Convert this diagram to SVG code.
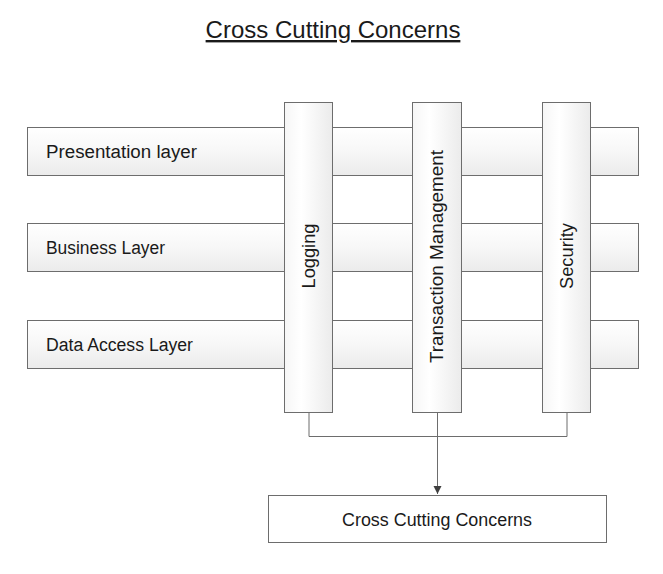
<svg xmlns="http://www.w3.org/2000/svg" width="663" height="574" viewBox="0 0 663 574">
<defs>
<linearGradient id="gBar" x1="0" y1="0" x2="0" y2="1">
<stop offset="0" stop-color="#ffffff"/>
<stop offset="0.5" stop-color="#f7f7f7"/>
<stop offset="1" stop-color="#ebebeb"/>
</linearGradient>
<linearGradient id="gCol" x1="0" y1="0" x2="1" y2="0">
<stop offset="0" stop-color="#f6f6f6"/>
<stop offset="0.35" stop-color="#ffffff"/>
<stop offset="1" stop-color="#ebebeb"/>
</linearGradient>
<marker id="arr" markerWidth="10" markerHeight="10" refX="8" refY="4" orient="auto" markerUnits="userSpaceOnUse">
<path d="M0,0 L8,4 L0,8 Z" fill="#404040"/>
</marker>
</defs>
<style>
.bar{fill:url(#gBar);stroke:#6d6d6d;stroke-width:1}
.col{fill:url(#gCol);stroke:#6d6d6d;stroke-width:1}
.lbl{font-family:"Liberation Sans",Arial,sans-serif;font-size:18px;fill:#1a1a1a}
.conn{fill:none;stroke:#6d6d6d;stroke-width:1}
</style>
<rect width="663" height="574" fill="#ffffff"/>
<g id="title">
<text x="333" y="38" text-anchor="middle" font-family="Liberation Sans, Arial, sans-serif" font-size="24" fill="#1a1a1a" text-decoration="underline">Cross Cutting Concerns</text>
</g>
<g id="presentation">
<rect class="bar" x="27.5" y="127.5" width="611" height="48"/>
<text class="lbl" x="46" y="158" textLength="151" lengthAdjust="spacingAndGlyphs">Presentation layer</text>
</g>
<g id="business">
<rect class="bar" x="27.5" y="223.5" width="611" height="48"/>
<text class="lbl" x="46" y="254" textLength="119" lengthAdjust="spacingAndGlyphs">Business Layer</text>
</g>
<g id="dataaccess">
<rect class="bar" x="27.5" y="320.5" width="611" height="48"/>
<text class="lbl" x="46" y="351" textLength="147" lengthAdjust="spacingAndGlyphs">Data Access Layer</text>
</g>
<g id="connectors">
<polyline class="conn" points="309,412 309,436.5 567,436.5 567,412"/>
<line class="conn" x1="437.5" y1="412" x2="437.5" y2="494" stroke="#404040" marker-end="url(#arr)"/>
</g>
<g id="logging">
<rect class="col" x="284.5" y="102.5" width="48" height="310"/>
<text class="lbl" transform="translate(315,256) rotate(-90)" text-anchor="middle" textLength="65" lengthAdjust="spacingAndGlyphs">Logging</text>
</g>
<g id="transaction">
<rect class="col" x="412.5" y="102.5" width="49" height="310"/>
<text class="lbl" transform="translate(443,256.5) rotate(-90)" text-anchor="middle" textLength="213" lengthAdjust="spacingAndGlyphs">Transaction Management</text>
</g>
<g id="security">
<rect class="col" x="542.5" y="102.5" width="48" height="310"/>
<text class="lbl" transform="translate(573,256) rotate(-90)" text-anchor="middle" textLength="66" lengthAdjust="spacingAndGlyphs">Security</text>
</g>
<g id="crosscutting">
<rect x="268.5" y="495.5" width="338" height="47" fill="#ffffff" stroke="#6d6d6d"/>
<text class="lbl" x="437" y="526" text-anchor="middle" textLength="190" lengthAdjust="spacingAndGlyphs">Cross Cutting Concerns</text>
</g>
</svg>
